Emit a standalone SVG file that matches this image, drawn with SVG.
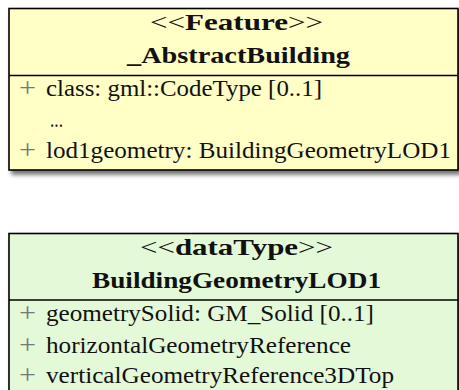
<svg xmlns="http://www.w3.org/2000/svg" width="459" height="390" viewBox="0 0 459 390">
  <defs>
    <filter id="shadow" x="-10%" y="-10%" width="130%" height="130%">
      <feGaussianBlur in="SourceAlpha" stdDeviation="2.2"/>
      <feOffset dx="3" dy="4" result="blur"/>
      <feComponentTransfer><feFuncA type="linear" slope="0.55"/></feComponentTransfer>
      <feMerge><feMergeNode/><feMergeNode in="SourceGraphic"/></feMerge>
    </filter>
  </defs>
  <style>
    text { font-family: "Liberation Serif", "DejaVu Serif", serif; font-size: 23px; fill: #111; }
    .b { font-weight: bold; }
    .plus { fill: #777; font-size: 28px; }
    .box { stroke: #000; stroke-width: 1.6; }
    .feature { fill: #FFFFC6; }
    .datatype { fill: #E4F9D8; }
    .rule { stroke: #000; stroke-width: 1.6; }
  </style>

  <!-- class: _AbstractBuilding -->
  <g id="AbstractBuilding">
    <rect class="box feature" x="9" y="8.5" width="449" height="161.5" filter="url(#shadow)"/>
    <line class="rule" x1="9" y1="75.5" x2="458" y2="75.5"/>
    <text x="150" y="30" textLength="173" lengthAdjust="spacingAndGlyphs">&lt;&lt;<tspan class="b">Feature</tspan>&gt;&gt;</text>
    <text class="b" x="127" y="63" textLength="223" lengthAdjust="spacingAndGlyphs">_AbstractBuilding</text>
    <text class="plus" x="19" y="97" textLength="17" lengthAdjust="spacingAndGlyphs">+</text>
    <text x="46" y="96" textLength="276" lengthAdjust="spacingAndGlyphs">class: gml::CodeType [0..1]</text>
    <text x="50" y="127" textLength="13" lengthAdjust="spacingAndGlyphs">...</text>
    <text class="plus" x="19" y="159" textLength="17" lengthAdjust="spacingAndGlyphs">+</text>
    <text x="46" y="158" textLength="405" lengthAdjust="spacingAndGlyphs">lod1geometry: BuildingGeometryLOD1</text>
  </g>

  <!-- data type: BuildingGeometryLOD1 -->
  <g id="BuildingGeometryLOD1">
    <rect class="box datatype" x="9" y="233.5" width="449" height="170" filter="url(#shadow)"/>
    <line class="rule" x1="9" y1="300" x2="458" y2="300"/>
    <text x="140" y="255" textLength="193" lengthAdjust="spacingAndGlyphs">&lt;&lt;<tspan class="b">dataType</tspan>&gt;&gt;</text>
    <text class="b" x="92" y="288" textLength="289" lengthAdjust="spacingAndGlyphs">BuildingGeometryLOD1</text>
    <text class="plus" x="19" y="322" textLength="17" lengthAdjust="spacingAndGlyphs">+</text>
    <text x="46" y="321" textLength="328" lengthAdjust="spacingAndGlyphs">geometrySolid: GM_Solid [0..1]</text>
    <text class="plus" x="19" y="354" textLength="17" lengthAdjust="spacingAndGlyphs">+</text>
    <text x="46" y="353" textLength="305" lengthAdjust="spacingAndGlyphs">horizontalGeometryReference</text>
    <text class="plus" x="19" y="384" textLength="17" lengthAdjust="spacingAndGlyphs">+</text>
    <text x="46" y="383" textLength="348" lengthAdjust="spacingAndGlyphs">verticalGeometryReference3DTop</text>
  </g>

  <!-- no connectors between these two classes -->
  <g id="connectors"/>
</svg>
